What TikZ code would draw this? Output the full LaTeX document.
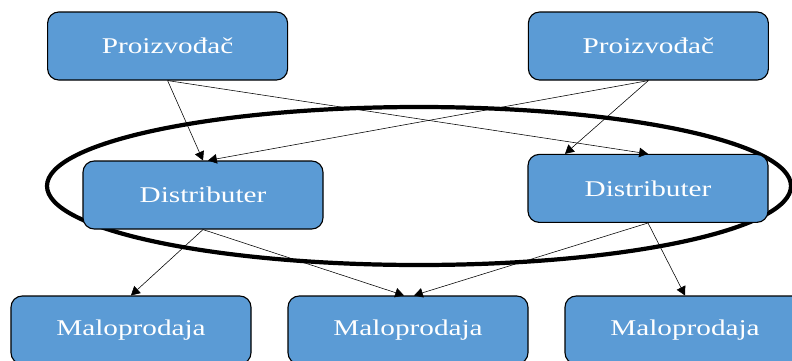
\documentclass[tikz,border=0pt]{standalone}
\usepackage{fontspec}
\setmainfont{Liberation Serif}[FakeStretch=1.3]
\usetikzlibrary{arrows.meta}

\definecolor{boxblue}{RGB}{91,155,213}

\tikzset{
  level box/.style={draw=black, line width=0.8pt, fill=boxblue,
    rounded corners=0.28cm, minimum width=6cm, minimum height=1.7cm,
    text=white, font=\fontsize{16}{19}\selectfont},
  flow/.style={-{Triangle[length=0.22cm,width=0.24cm]}, line width=0.4pt}
}

\begin{document}
\begin{tikzpicture}
            \useasboundingbox (0,0) rectangle (19.8,-9);

            % ring round the distributers
            \draw [line width=3pt] (10.475,-4.65) ellipse [x radius=9.3, y radius=1.975];

            \node [level box] (P1) at (4.19,-1.15) {Proizvođač};
            \node [level box] (P2) at (16.21,-1.15) {Proizvođač};
            \node [level box] (D1) at (5.075,-4.875) {Distributer};
            \node [level box] (D2) at (16.2,-4.71) {Distributer};
            \node [level box] (M1) at (3.275,-8.25) {Maloprodaja};
            \node [level box] (M2) at (10.2,-8.25) {Maloprodaja};
            \node [level box] (M3) at (17.125,-8.25) {Maloprodaja};

            \draw [flow] (P1.south) -- (D1.north);
            \draw [flow] (P1.south) -- (D2.north);
            \draw [flow] (P2.south) -- ([xshift=0.125cm]D1.north);
            \draw [flow] (P2.south) -- ([xshift=-2.075cm]D2.north);
            \draw [flow] (D1.south) -- (M1.north);
            \draw [flow] (D1.south) -- ([xshift=-0.1cm]M2.north);
            \draw [flow] (D2.south) -- ([xshift=0.15cm]M2.north);
            \draw [flow] (D2.south) -- (M3.north);
        \end{tikzpicture}
\end{document}
